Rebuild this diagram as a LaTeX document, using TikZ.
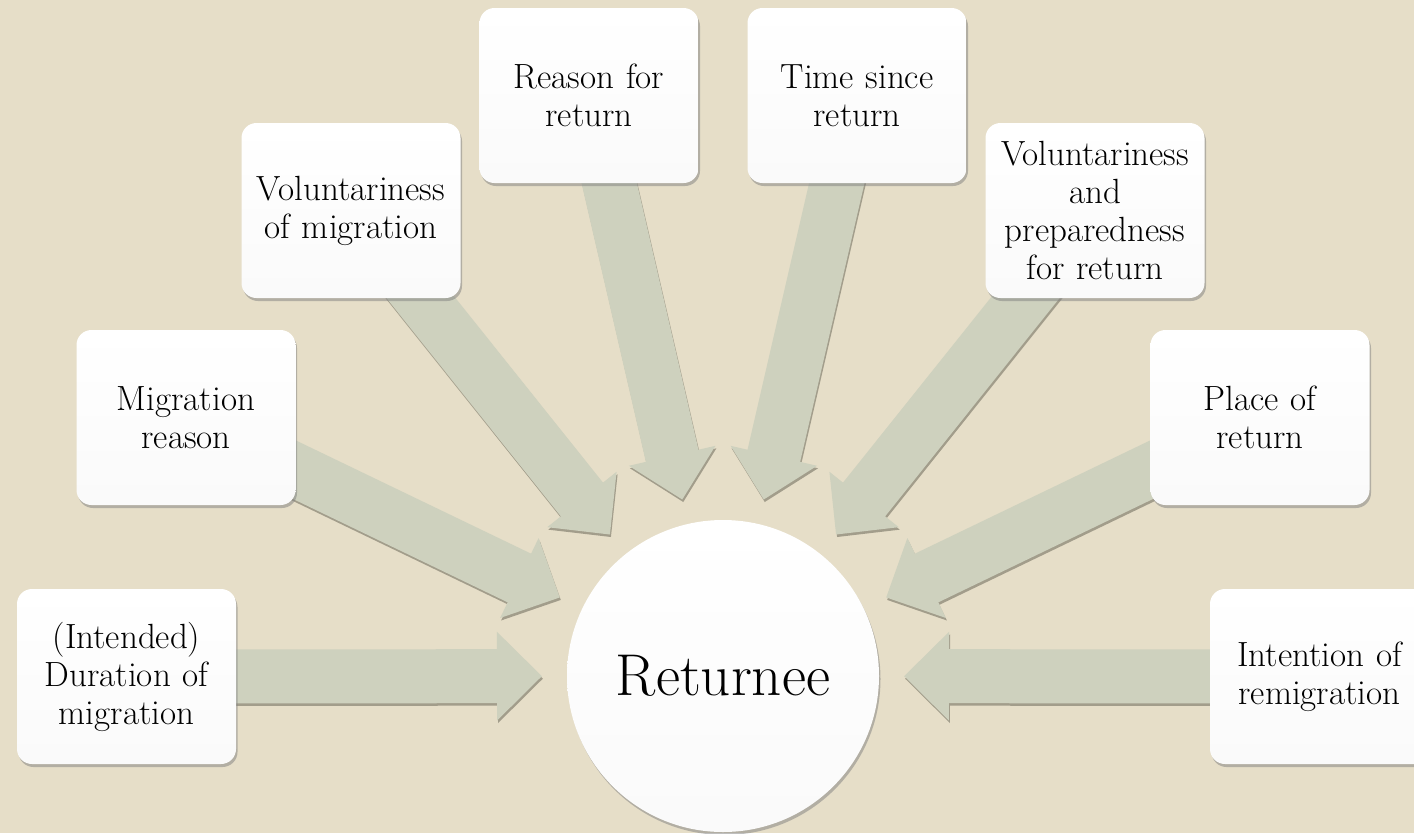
\documentclass[tikz,border=0pt]{standalone}
\usetikzlibrary{arrows.meta,shadows}
\definecolor{paper}{HTML}{E6DEC8}
\definecolor{sage}{HTML}{CED1BE}
\definecolor{dusk}{HTML}{A29D8B}
\pgfdeclarelayer{bg}
\pgfdeclarelayer{arr}
\pgfsetlayers{bg,arr,main}
\tikzset{b/.style = {rounded corners=15pt, minimum width=219pt, minimum height=175pt, inner sep=3pt,
        text width=213pt, align=center, top color=white, bottom color=black!2,
        font=\fontsize{35}{38}\selectfont,
        drop shadow={shadow xshift=1.5pt, shadow yshift=-3pt, opacity=.5}},
    c/.style = {circle, minimum size=312pt, inner sep=0pt, top color=white, bottom color=black!2,
        font=\fontsize{59}{64}\selectfont,
        drop shadow={shadow xshift=1.5pt, shadow yshift=-3pt, opacity=.5}},
    f/.style = {line width=54pt, sage, -{Triangle[width=86pt, length=45pt]}, shorten >=181pt},
    s/.style = {f, dusk, transform canvas={xshift=1pt, yshift=-2.5pt}}}

\begin{document}
\begin{tikzpicture}[x=1pt, y=-1pt]
        \useasboundingbox (0,0) rectangle (1414,833);
        \begin{pgfonlayer}{bg}
            \fill[paper] (0,0) rectangle (1414,833);
        \end{pgfonlayer}

        \node[c] (ret) at (723,676) {Returnee};
        \node[b] (dur) at (126.5,676.5) {(Intended)\\Duration of\\migration};
        \node[b] (why) at (186,417.5) {Migration\\reason};
        \node[b] (vol) at (351,210.5) {Voluntariness\\of migration};
        \node[b] (rsn) at (589,95.5) {Reason for\\return};
        \node[b] (time) at (857,95.5) {Time since\\return};
        \node[b] (prep) at (1095,210.5) {Voluntariness\\and\\preparedness\\for return};
        \node[b] (place) at (1260,417.5) {Place of\\return};
        \node[b] (remig) at (1319.5,676.5) {Intention of\\remigration};

        \begin{pgfonlayer}{arr}
            \foreach \n in {dur, why, vol, rsn, time, prep, place, remig} {
                \draw[s] (\n.center) -- (ret.center);
                \draw[f] (\n.center) -- (ret.center);
            }
        \end{pgfonlayer}
\end{tikzpicture}
\end{document}
